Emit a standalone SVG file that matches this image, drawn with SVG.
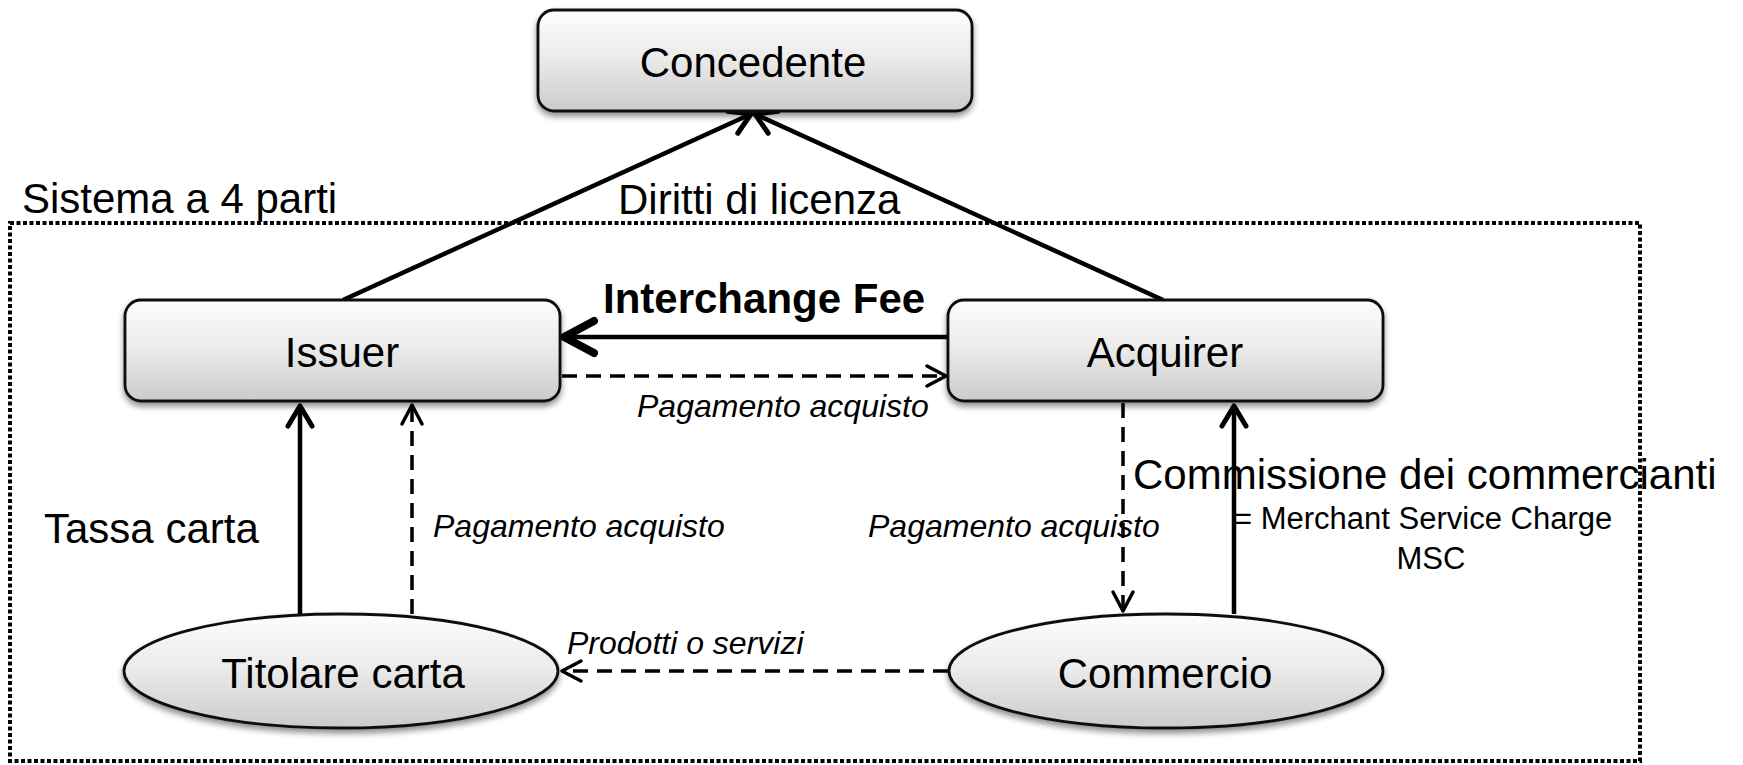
<svg xmlns="http://www.w3.org/2000/svg" width="1743" height="765" viewBox="0 0 1743 765">
<style>
text{font-family:"Liberation Sans",Arial,Helvetica,sans-serif;fill:#000}
.big{font-size:42px}
.lbl{font-size:42px;text-anchor:middle}
.it{font-size:32px;font-style:italic}
.sm{font-size:31px}
.node{fill:url(#g);stroke:#111;stroke-width:2.8;filter:url(#sh)}
.solid{fill:none;stroke:#000;stroke-width:4.5}
.dash{fill:none;stroke:#000;stroke-width:3.5;stroke-dasharray:15 9}
.frame{fill:none;stroke:#000;stroke-width:4;stroke-dasharray:4 2.5}
</style>
<defs>
<linearGradient id="g" x1="0" y1="0" x2="0" y2="1">
<stop offset="0" stop-color="#fdfdfd"/>
<stop offset="0.45" stop-color="#ececec"/>
<stop offset="1" stop-color="#cbcbcb"/>
</linearGradient>
<filter id="sh" x="-10%" y="-20%" width="120%" height="150%">
<feGaussianBlur in="SourceAlpha" stdDeviation="3"/>
<feOffset dx="0" dy="4" result="b"/>
<feComponentTransfer><feFuncA type="linear" slope="0.45"/></feComponentTransfer>
<feMerge><feMergeNode/><feMergeNode in="SourceGraphic"/></feMerge>
</filter>
<marker id="ah" markerUnits="userSpaceOnUse" viewBox="-30 -20 40 40" markerWidth="40" markerHeight="40" refX="0" refY="0" orient="auto">
<path d="M-20,-12 L0,0 L-20,12" fill="none" stroke="#000" stroke-width="5" stroke-linecap="round" stroke-linejoin="round"/>
</marker>
<marker id="ahd" markerUnits="userSpaceOnUse" viewBox="-30 -20 40 40" markerWidth="40" markerHeight="40" refX="0" refY="0" orient="auto">
<path d="M-19,-10 L0,0 L-19,10" fill="none" stroke="#000" stroke-width="3.5" stroke-linecap="round" stroke-linejoin="round"/>
</marker>
<marker id="ahb" markerUnits="userSpaceOnUse" viewBox="-40 -25 50 50" markerWidth="50" markerHeight="50" refX="0" refY="0" orient="auto">
<path d="M-30,-16 L0,0 L-30,16" fill="none" stroke="#000" stroke-width="8" stroke-linecap="round" stroke-linejoin="round"/>
</marker>
</defs>

<rect class="frame" x="10" y="223" width="1630" height="538"/>
<text class="big" x="22" y="213">Sistema a 4 parti</text>
<text class="big" x="618" y="214">Diritti di licenza</text>

<g id="connectors">
<line class="solid" x1="343" y1="300" x2="751" y2="114" marker-end="url(#ah)"/>
<line class="solid" x1="1163" y1="300" x2="755" y2="114" marker-end="url(#ah)"/>
<line class="solid" x1="947" y1="337" x2="564" y2="337" stroke-width="8" marker-end="url(#ahb)"/>
<line class="dash" x1="562" y1="376" x2="946" y2="376" marker-end="url(#ahd)"/>
<line class="solid" x1="300" y1="614" x2="300" y2="406" marker-end="url(#ah)"/>
<line class="dash" x1="412" y1="614" x2="412" y2="405" marker-end="url(#ahd)"/>
<line class="dash" x1="1123" y1="403" x2="1123" y2="611" marker-end="url(#ahd)"/>
<line class="solid" x1="1234" y1="614" x2="1234" y2="406" marker-end="url(#ah)"/>
<line class="dash" x1="948" y1="671" x2="562" y2="671" marker-end="url(#ahd)"/>
<text x="603" y="313" font-size="42" font-weight="bold">Interchange Fee</text>
<text class="it" x="637" y="417">Pagamento acquisto</text>
<text class="it" x="433" y="537">Pagamento acquisto</text>
<text class="it" x="868" y="537">Pagamento acquisto</text>
<text class="it" x="567" y="654">Prodotti o servizi</text>
<text class="big" x="44" y="543">Tassa carta</text>
<text class="big" x="1133" y="489">Commissione dei commercianti</text>
<text class="sm" x="1234" y="529">= Merchant Service Charge</text>
<text class="sm" x="1431" y="569" text-anchor="middle">MSC</text>
</g>

<g id="concedente">
<rect class="node" x="538" y="10" width="434" height="101" rx="16"/>
<text class="lbl" x="753" y="77">Concedente</text>
</g>
<g id="issuer">
<rect class="node" x="125" y="300" width="435" height="101" rx="16"/>
<text class="lbl" x="342" y="367">Issuer</text>
</g>
<g id="acquirer">
<rect class="node" x="948" y="300" width="435" height="101" rx="16"/>
<text class="lbl" x="1165" y="367">Acquirer</text>
</g>
<g id="titolare">
<ellipse class="node" cx="341" cy="671" rx="217" ry="57"/>
<text class="lbl" x="343" y="688">Titolare carta</text>
</g>
<g id="commercio">
<ellipse class="node" cx="1166" cy="671" rx="217" ry="57"/>
<text class="lbl" x="1165" y="688">Commercio</text>
</g>
</svg>
